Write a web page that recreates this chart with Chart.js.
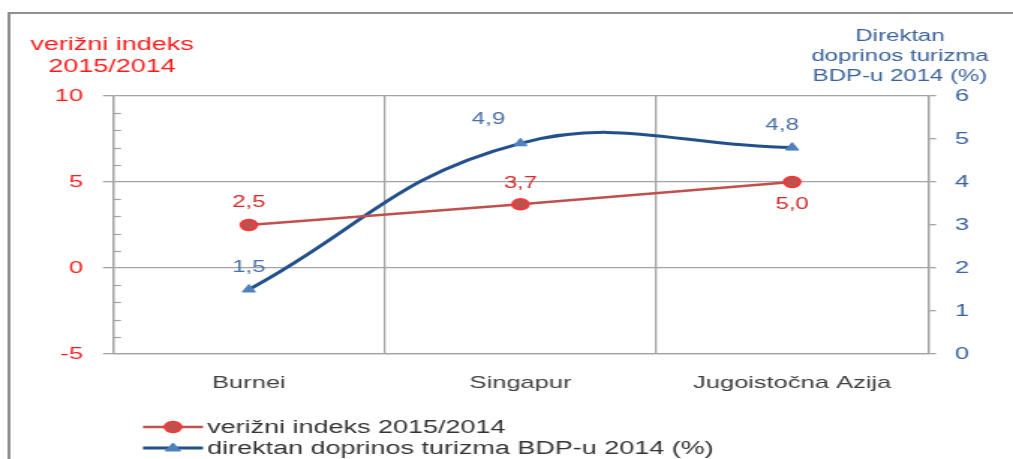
<!DOCTYPE html>
<html><head><meta charset="utf-8">
<script src="https://cdn.jsdelivr.net/npm/chart.js@4"></script>
<style>
html,body{margin:0;padding:0;background:#fff;overflow:hidden}
#wrap{width:676px;height:459px;transform:scaleX(1.49852);transform-origin:0 0;}
</style></head><body>
<div id="wrap"><canvas id="c"></canvas></div>
<script>
// ---- data ----
const categories = ['Burnei', 'Singapur', 'Jugoistočna Azija'];
const indexValues = [2.5, 3.7, 5.0];
const tourismValues = [1.5, 4.9, 4.8];
const indexLabels = ['2,5', '3,7', '5,0'];
const tourismLabels = ['1,5', '4,9', '4,8'];
const indexName = 'verižni indeks 2015/2014';
const tourismName = 'direktan doprinos turizma BDP-u 2014 (%)';
const leftTitle = ['verižni indeks', '2015/2014'];
const rightTitle = ['Direktan', 'doprinos turizma', 'BDP-u 2014 (%)'];

// ---- style ----
const SX = 1013 / 676;
const FONT = '"Liberation Sans", Arial, sans-serif';
const GRID = '#a3a3a3';
const RED_LINE = '#c0504d', RED_TXT = '#d42a2a', RED_AXIS = '#ff1a1a';
const BLUE_LINE = '#22508c', BLUE_PT = '#4f81bd', BLUE_TXT = '#4a6fa5', BLUE_AXIS = '#3a629c';
Chart.defaults.font.family = FONT;

const px = v => v / SX; // convert target x to pre-stretch

const decor = {
  id: 'decor',
  beforeDraw(chart) {
    const ctx = chart.ctx;
    ctx.save();
    ctx.strokeStyle = '#8e8e8e';
    ctx.lineWidth = 2;
    ctx.beginPath();
    ctx.moveTo(px(9), 470);
    ctx.lineTo(px(9), 13);
    ctx.lineTo(700, 13);
    ctx.stroke();
    ctx.restore();
  },
  afterDraw(chart) {
    const ctx = chart.ctx;
    ctx.save();
    // titles
    ctx.textAlign = 'center';
    ctx.textBaseline = 'middle';
    ctx.fillStyle = RED_AXIS;
    ctx.font = '18px ' + FONT;
    ctx.fillText(leftTitle[0], px(112), 45);
    ctx.fillText(leftTitle[1], px(112), 67);
    ctx.fillStyle = BLUE_AXIS;
    ctx.font = '16px ' + FONT;
    ctx.fillText(rightTitle[0], px(900), 37);
    ctx.fillText(rightTitle[1], px(900), 57);
    ctx.fillText(rightTitle[2], px(900), 77);
    // minor ticks on left axis (inward)
    const y = chart.scales.y;
    ctx.strokeStyle = GRID;
    ctx.lineWidth = 1.2;
    for (let v = y.min; v <= y.max; v++) {
      if (v % 5 === 0) continue;
      const yy = Math.round(y.getPixelForValue(v)) + 0.5;
      ctx.beginPath();
      ctx.moveTo(y.right, yy);
      ctx.lineTo(y.right + px(8), yy);
      ctx.stroke();
    }
    // legend
    const items = [
      {name: indexName, ds: chart.data.datasets[0], yy: 427},
      {name: tourismName, ds: chart.data.datasets[1], yy: 448}
    ];
    items.forEach(it => {
      ctx.strokeStyle = it.ds.borderColor;
      ctx.lineWidth = it.ds.borderWidth;
      ctx.beginPath();
      ctx.moveTo(px(143), it.yy);
      ctx.lineTo(px(203), it.yy);
      ctx.stroke();
      ctx.fillStyle = it.ds.pointBackgroundColor;
      ctx.strokeStyle = it.ds.pointBorderColor;
      ctx.lineWidth = it.ds.pointBorderWidth;
      ctx.beginPath();
      if (it.ds.pointStyle === 'circle') {
        ctx.arc(px(173), it.yy, it.ds.pointRadius, 0, Math.PI * 2);
      } else {
        const r = it.ds.pointRadius;
        ctx.moveTo(px(173), it.yy - r);
        ctx.lineTo(px(173) + r, it.yy + r * 0.6);
        ctx.lineTo(px(173) - r, it.yy + r * 0.6);
        ctx.closePath();
      }
      ctx.fill(); ctx.stroke();
      ctx.fillStyle = '#333333';
      ctx.font = '18px ' + FONT;
      ctx.textAlign = 'left';
      ctx.textBaseline = 'middle';
      ctx.fillText(it.name, px(207), it.yy + 1);
    });
    ctx.restore();
  },
  afterDatasetsDraw(chart) {
    const ctx = chart.ctx;
    ctx.save();
    ctx.font = '16px ' + FONT;
    ctx.textAlign = 'center';
    ctx.textBaseline = 'middle';
    chart.data.datasets.forEach((ds, i) => {
      const meta = chart.getDatasetMeta(i);
      meta.data.forEach((pt, j) => {
        const o = ds.dl;
        ctx.fillStyle = o.color;
        ctx.fillText(o.text[j], pt.x + px(o.dx[j]), pt.y + o.dy[j]);
      });
    });
    ctx.restore();
  }
};

new Chart(document.getElementById('c'), {
  type: 'line',
  data: {
    labels: categories,
    datasets: [
      {
        label: indexName, data: indexValues, yAxisID: 'y',
        borderColor: RED_LINE, borderWidth: 2.5, tension: 0,
        pointStyle: 'circle', pointRadius: 5.5, pointBorderWidth: 1.5,
        pointBackgroundColor: '#c0504d', pointBorderColor: '#ff3333',
        dl: {text: indexLabels, color: RED_TXT, dx: [0, 0, 0], dy: [-22, -21, 23]}
      },
      {
        label: tourismName, data: tourismValues, yAxisID: 'y1',
        borderColor: BLUE_LINE, borderWidth: 3, tension: 0.42,
        pointStyle: 'triangle', pointRadius: 5, pointBorderWidth: 1,
        pointBackgroundColor: BLUE_PT, pointBorderColor: BLUE_PT,
        dl: {text: tourismLabels, color: BLUE_TXT, dx: [0, -32, -10], dy: [-22, -24, -22]}
      }
    ]
  },
  plugins: [decor],
  options: {
    responsive: true, maintainAspectRatio: false, animation: false,
    layout: {padding: {top: 96, left: 0, right: 0, bottom: 0}},
    plugins: {legend: {display: false}, tooltip: {enabled: false}},
    scales: {
      x: {
        offset: true,
        grid: {offset: true, color: GRID, lineWidth: 1.3, drawTicks: false},
        border: {color: GRID, width: 1.3},
        ticks: {color: '#404040', font: {size: 17}, padding: 19, maxRotation: 0},
        afterFit: s => { s.height = 105; }
      },
      y: {
        position: 'left', min: -5, max: 10,
        ticks: {stepSize: 5, color: RED_AXIS, font: {size: 17}, padding: px(20)},
        grid: {color: GRID, lineWidth: 1.3, tickLength: px(10)},
        border: {color: GRID, width: 1.3},
        afterFit: s => { s.width = px(113); }
      },
      y1: {
        position: 'right', min: 0, max: 6,
        ticks: {stepSize: 1, color: BLUE_AXIS, font: {size: 17}, padding: px(19)},
        grid: {drawOnChartArea: false, color: GRID, lineWidth: 1.3, tickLength: px(8)},
        border: {color: GRID, width: 1.3},
        afterFit: s => { s.width = 676 - px(928); }
      }
    }
  }
});
</script>
</body></html>
